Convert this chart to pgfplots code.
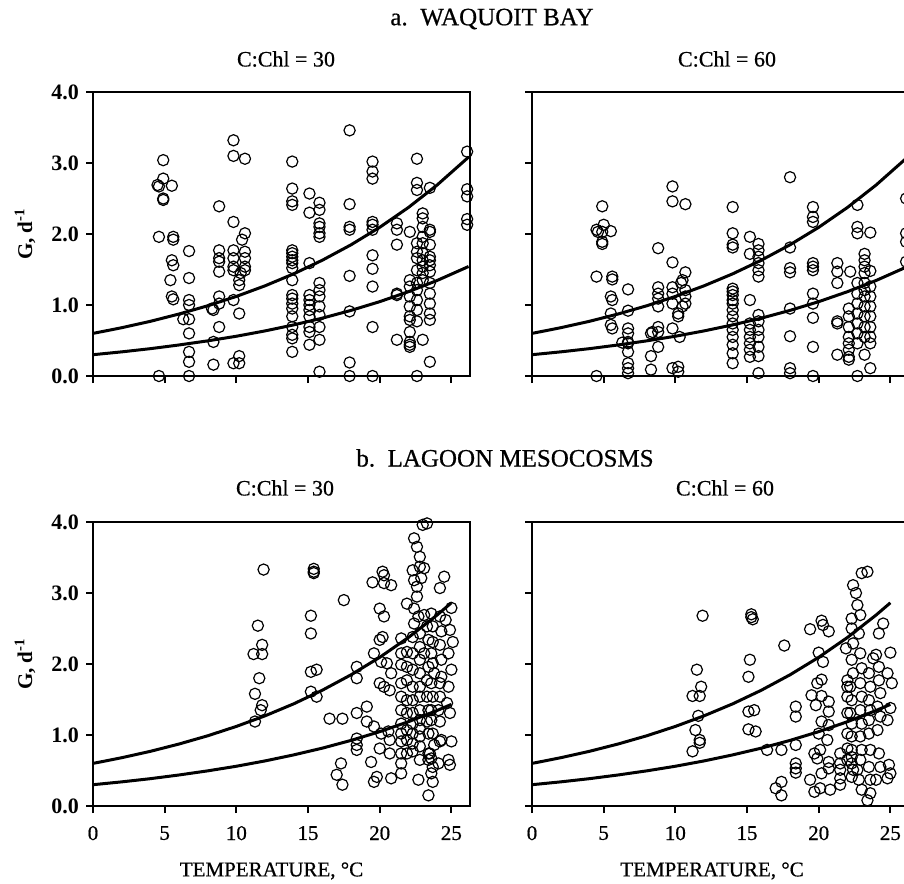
\documentclass[border=0pt]{standalone}
\usepackage{fontspec}
\setmainfont{Liberation Serif}
\newfontfamily\heavy{Liberation Serif}[FakeBold=0.6]
\usepackage{pgfplots}
\pgfplotsset{compat=1.18}

\pgfplotsset{
  panel/.style={
    width=188.5pt, height=142pt, scale only axis,
    xmin=0, xmax=26.3, ymin=0, ymax=4,
    xtick={0,5,...,25}, ytick={0,1,2,3,4},
    tick align=outside, major tick length=3.5pt, tick pos=left,
    axis line style={line width=1.2pt},
    every tick/.style={line width=1pt, black},
    clip=false,
    /pgf/number format/assume math mode=true,
    yticklabel style={font=\fontsize{11}{12}\selectfont\bfseries,
      /pgf/number format/.cd, fixed, fixed zerofill, precision=1},
    xticklabel style={font=\fontsize{10.5}{12}\selectfont\heavy, yshift=-3pt},
  },
  dots/.style={only marks, mark=o, mark size=2.8pt, mark options={line width=0.6pt, black}},
  fitline/.style={no marks, line width=1.5pt, black},
}
\tikzset{
  sect/.style={font=\fontsize{12.5}{14}\selectfont\heavy},
  ttl/.style={font=\fontsize{11}{13}\selectfont\heavy},
  xlab/.style={font=\fontsize{10.5}{12}\selectfont\heavy},
  ylab/.style={font=\fontsize{10.5}{12}\selectfont\bfseries, rotate=90},
}

\begin{document}
\begin{tikzpicture}

% ---------- a. Waquoit Bay, C:Chl = 30
\begin{axis}[panel, at={(46.5pt,-188pt)}, anchor=south west, xticklabels={}]
\addplot[dots] coordinates {
 (4.9,3.04)(4.5,2.69)(4.6,2.67)(4.9,2.78)(5.5,2.68)(4.9,2.48)(4.9,2.50)(4.6,1.96)
 (5.6,1.96)(5.6,1.92)(5.5,1.63)(5.6,1.56)(5.4,1.35)(5.5,1.12)(5.6,1.08)(4.6,0.00)
 (6.7,1.76)(6.7,1.38)(6.7,1.07)(6.7,1.00)(6.3,0.80)(6.7,0.80)(6.7,0.60)(6.7,0.34)(6.7,0.20)(6.7,0.00)
 (8.8,2.39)(8.3,0.95)(8.4,0.93)(8.8,1.77)(8.8,1.66)(8.8,1.61)(8.8,1.47)(8.8,1.12)(8.8,1.02)
 (8.8,0.69)(8.4,0.48)(8.4,0.16)
 (9.8,3.32)(9.8,3.10)(10.6,3.06)(9.8,2.17)(10.6,2.01)(10.4,1.92)(9.8,1.77)(9.8,1.66)(9.8,1.54)
 (9.8,1.49)(10.6,1.75)(10.6,1.66)(10.6,1.54)(10.6,1.49)(10.3,1.45)(10.2,1.35)(10.2,1.28)
 (9.8,1.07)(10.2,0.88)(10.2,0.28)(9.8,0.18)(10.2,0.18)
 (13.9,3.02)(13.9,2.64)(13.9,2.46)(13.9,2.41)(13.9,1.77)(13.9,1.73)(13.9,1.68)(13.9,1.63)
 (13.9,1.59)(13.9,1.52)(13.9,1.35)(13.9,1.14)(13.9,1.09)(13.9,1.02)(13.9,0.95)(13.9,0.84)
 (13.9,0.69)(13.9,0.58)(13.9,0.53)(13.9,0.34)
 (15.1,2.57)(15.1,2.30)(15.1,1.59)(15.1,1.14)(15.1,1.07)(15.1,1.00)(15.1,0.93)(15.1,0.84)
 (15.1,0.69)(15.1,0.62)(15.1,0.44)
 (15.8,2.44)(15.8,2.34)(15.8,2.15)(15.8,2.10)(15.8,2.01)(15.8,1.96)(15.8,1.31)(15.8,1.21)
 (15.8,1.12)(15.8,0.98)(15.8,0.86)(15.8,0.69)(15.8,0.51)(15.8,0.06)
 (17.9,3.46)(17.9,2.42)(17.9,2.10)(17.9,2.06)(17.9,1.41)(17.9,0.91)(17.9,0.19)(17.9,0.00)
 (19.5,3.02)(19.5,2.88)(19.5,2.78)(19.5,2.17)(19.5,2.13)(19.5,2.06)(19.5,1.70)(19.5,1.51)
 (19.5,1.26)(19.5,0.69)(19.5,0.00)
 (21.2,2.15)(21.2,2.06)(21.2,1.85)(21.2,1.16)(21.2,1.14)(21.2,0.51)
 (22.1,2.03)(22.1,1.35)(22.1,1.26)(22.1,1.12)(22.1,0.98)(22.1,0.84)(22.1,0.79)(22.1,0.62)
 (22.1,0.48)(22.1,0.44)(22.1,0.41)
 (22.6,3.06)(22.6,2.72)(22.6,2.62)(22.6,1.87)(22.6,1.75)(22.6,1.66)(22.6,1.49)(22.6,1.31)
 (22.6,1.21)(22.6,1.07)(22.6,0.93)(22.6,0.77)(22.6,0.00)
 (23.0,2.29)(23.0,2.22)(23.0,2.10)(23.0,1.96)(23.0,1.87)(23.0,1.73)(23.0,1.63)(23.0,1.54)
 (23.0,1.45)(23.0,1.35)(23.0,0.51)
 (23.5,2.65)(23.5,2.06)(23.5,2.03)(23.5,1.85)(23.5,1.68)(23.5,1.63)(23.5,1.56)(23.5,1.47)
 (23.5,1.31)(23.5,1.16)(23.5,1.02)(23.5,0.88)(23.5,0.79)(23.5,0.20)
 (26.1,3.16)(26.1,2.63)(26.1,2.53)(26.1,2.21)(26.1,2.13)
};
\addplot[fitline] coordinates {(0,0.600)(2,0.680)(4,0.770)(6,0.873)(8,0.989)(10,1.121)(12,1.270)
 (14,1.439)(16,1.631)(18,1.848)(20,2.094)(22,2.373)(24,2.689)(26,3.047)(26.2,3.085)};
\addplot[fitline] coordinates {(0,0.300)(2,0.340)(4,0.385)(6,0.437)(8,0.495)(10,0.560)(12,0.635)
 (14,0.720)(16,0.815)(18,0.924)(20,1.047)(22,1.187)(24,1.345)(26,1.524)(26.2,1.543)};
\end{axis}

% ---------- a. Waquoit Bay, C:Chl = 60
\begin{axis}[panel, at={(266pt,-188pt)}, anchor=south west, xticklabels={}, yticklabels={}]
\addplot[dots] coordinates {
 (4.9,2.39)(4.5,2.06)(4.6,2.03)(4.9,2.03)(5.0,2.13)(5.5,2.04)(4.9,1.89)(4.9,1.86)(4.5,1.40)
 (5.6,1.40)(5.6,1.36)(5.5,1.12)(5.6,1.07)(5.5,0.88)(5.5,0.72)(5.6,0.67)(4.5,0.00)
 (6.7,1.22)(6.7,0.92)(6.7,0.67)(6.7,0.60)(6.7,0.48)(6.7,0.46)(6.7,0.34)(6.7,0.18)(6.7,0.11)
 (6.7,0.04)(6.3,0.47)
 (8.8,1.80)(8.8,1.25)(8.8,1.16)(8.8,1.09)(8.8,0.98)(8.8,0.69)(8.8,0.62)(8.8,0.41)
 (8.3,0.60)(8.4,0.62)(8.3,0.28)(8.3,0.09)
 (9.8,2.67)(9.8,2.46)(10.7,2.42)(9.8,1.60)(10.7,1.46)(10.5,1.35)(10.4,1.31)(9.8,1.25)
 (9.8,1.16)(9.8,1.02)(10.7,1.21)(10.7,1.12)(10.7,1.02)(10.5,0.98)(10.2,0.88)(10.2,0.84)
 (9.8,0.67)(10.3,0.55)(9.8,0.11)(10.2,0.13)(10.2,0.06)
 (14.0,2.38)(14.0,2.01)(14.0,1.85)(14.0,1.81)(14.0,1.23)(14.0,1.19)(14.0,1.14)(14.0,1.07)
 (14.0,1.02)(14.0,0.93)(14.0,0.84)(14.0,0.74)(14.0,0.65)(14.0,0.55)(14.0,0.44)(14.0,0.32)(14.0,0.18)
 (15.2,1.96)(15.2,1.72)(15.2,1.07)(15.2,0.74)(15.2,0.65)(15.2,0.55)(15.2,0.46)(15.2,0.37)(15.2,0.27)
 (15.8,1.86)(15.8,1.77)(15.8,1.68)(15.8,1.59)(15.8,1.49)(15.8,1.40)(15.8,0.86)(15.8,0.77)
 (15.8,0.65)(15.8,0.55)(15.8,0.41)(15.8,0.28)(15.8,0.04)
 (18.0,2.80)(18.0,1.81)(18.0,1.52)(18.0,1.46)(18.0,0.95)(18.0,0.56)(18.0,0.11)(18.0,0.04)
 (19.6,2.38)(19.6,2.24)(19.6,2.17)(19.6,1.59)(19.6,1.54)(19.6,1.49)(19.6,1.16)(19.6,1.02)
 (19.6,0.82)(19.6,0.41)(19.6,0.00)
 (21.3,1.59)(21.3,1.47)(21.3,1.31)(21.3,0.77)(21.3,0.74)(21.3,0.30)(22.2,1.47)
 (22.1,0.95)(22.1,0.84)(22.1,0.69)(22.1,0.55)(22.1,0.46)(22.1,0.37)(22.1,0.27)(22.1,0.23)
 (22.7,2.41)(22.7,2.10)(22.7,2.01)(22.7,1.31)(22.7,1.16)(22.7,1.02)(22.7,0.88)(22.7,0.74)
 (22.7,0.60)(22.7,0.46)(22.7,0.00)
 (23.2,1.72)(23.2,1.63)(23.2,1.54)(23.2,1.45)(23.2,1.31)(23.2,1.21)(23.2,1.12)(23.2,0.98)
 (23.2,0.84)(23.2,0.69)(23.2,0.55)(23.2,0.30)
 (23.6,2.02)(23.6,1.48)(23.6,1.26)(23.6,1.12)(23.6,0.98)(23.6,0.84)(23.6,0.69)(23.6,0.55)
 (23.6,0.46)(23.6,0.11)
 (26.1,2.50)(26.1,2.01)(26.1,1.89)(26.1,1.61)
};
\addplot[fitline] coordinates {(0,0.600)(2,0.680)(4,0.770)(6,0.873)(8,0.989)(10,1.121)(12,1.270)
 (14,1.439)(16,1.631)(18,1.848)(20,2.094)(22,2.373)(24,2.689)(26,3.047)(26.2,3.085)};
\addplot[fitline] coordinates {(0,0.300)(2,0.340)(4,0.385)(6,0.437)(8,0.495)(10,0.560)(12,0.635)
 (14,0.720)(16,0.815)(18,0.924)(20,1.047)(22,1.187)(24,1.345)(26,1.524)(26.2,1.543)};
\end{axis}

% ---------- b. Lagoon mesocosms, C:Chl = 30
\begin{axis}[panel, at={(46.5pt,-403pt)}, anchor=south west]
\addplot[dots] coordinates {
 (11.9,3.33)(11.5,2.54)(11.8,2.27)(11.2,2.14)(11.8,2.14)(11.6,1.80)(11.3,1.58)(11.8,1.42)
 (11.7,1.35)(11.3,1.19)
 (15.4,3.34)(15.4,3.30)(15.4,3.28)(15.2,2.68)(15.2,2.43)(15.2,1.89)(15.6,1.92)(15.2,1.61)(15.6,1.54)
 (17.5,2.90)(16.5,1.23)(17.4,1.23)(18.4,1.96)(18.4,1.80)(18.4,1.31)(18.4,0.95)(18.4,0.86)
 (18.4,0.79)(17.3,0.60)(17.0,0.44)(17.4,0.30)(19.4,0.62)(19.6,0.34)(19.8,0.41)(19.1,1.40)
 (19.1,1.19)(19.5,3.15)(20.0,2.78)(20.3,2.67)(20.2,3.30)(20.3,3.25)(20.3,3.14)(20.8,3.11)
 (20.0,2.34)(20.2,2.38)(19.6,2.15)(20.1,2.03)(20.5,2.01)(20.8,1.87)(20.0,1.73)(20.3,1.68)
 (20.7,1.63)(19.6,1.12)(20.1,1.02)(20.6,1.05)(20.0,0.81)(20.7,0.93)(20.7,0.74)(20.8,0.39)
 (21.5,2.36)(21.5,2.15)(21.5,1.99)(21.5,1.73)(21.5,1.54)(21.5,1.35)(21.5,1.16)(21.5,1.02)
 (21.5,0.91)(21.5,0.74)(21.5,0.60)(21.5,0.46)
 (21.9,2.85)(21.9,2.17)(21.9,1.96)(21.9,1.77)(21.9,1.49)(21.9,1.31)(21.9,1.07)(21.9,0.93)(21.9,0.74)
 (22.4,3.77)(22.6,3.65)(22.3,3.32)(22.4,3.18)(22.6,3.09)(22.6,2.95)(22.4,2.78)(22.4,2.57)
 (22.3,2.38)(22.3,2.15)(22.3,1.92)(22.3,1.68)(22.3,1.49)(22.3,1.31)(22.3,1.16)(22.3,1.02)
 (22.3,0.88)(22.3,0.77)(22.7,0.37)
 (22.8,3.51)(22.8,3.37)(22.9,3.21)(22.7,2.67)(22.8,2.43)(22.8,2.24)(22.8,2.06)(22.8,1.87)
 (22.8,1.68)(22.8,1.54)(22.8,1.35)(22.8,1.21)(22.8,1.09)(22.8,0.98)(22.8,0.84)(22.8,0.65)
 (23.0,3.96)(23.3,3.98)(23.1,3.35)(23.1,2.69)(23.3,2.53)(23.4,2.34)(23.1,2.15)(23.4,1.96)
 (23.3,1.77)(23.3,1.54)(23.4,1.35)(23.3,1.19)(23.4,1.02)(23.4,0.74)(23.4,0.65)(23.4,0.15)
 (23.6,2.71)(23.7,2.53)(23.7,2.31)(23.6,2.15)(23.7,2.01)(23.8,1.87)(23.6,1.73)(23.7,1.54)
 (23.6,1.35)(23.6,1.21)(23.7,1.02)(23.8,0.86)(23.5,0.74)(23.6,0.67)(23.7,0.55)(23.7,0.34)(23.6,0.46)
 (24.5,3.23)(24.2,3.07)(24.2,2.67)(24.3,2.46)(24.2,2.27)(24.3,2.06)(24.3,1.82)(24.2,1.73)
 (24.2,1.54)(24.1,1.35)(24.2,1.19)(24.2,0.91)(24.1,0.60)(24.3,0.93)
 (25.0,2.79)(24.6,2.62)(24.9,2.48)(25.1,2.31)(24.8,2.15)(25.0,1.92)(24.8,1.68)(24.7,1.45)
 (24.9,1.31)(25.0,0.91)(24.8,0.65)(24.9,0.58)
};
\addplot[fitline] coordinates {(0,0.600)(2,0.680)(4,0.770)(6,0.873)(8,0.989)(10,1.121)(12,1.270)
 (14,1.439)(16,1.631)(18,1.848)(20,2.094)(22,2.373)(24,2.689)(25,2.862)};
\addplot[fitline] coordinates {(0,0.300)(2,0.340)(4,0.385)(6,0.437)(8,0.495)(10,0.560)(12,0.635)
 (14,0.720)(16,0.815)(18,0.924)(20,1.047)(22,1.187)(24,1.345)(25,1.431)};
\end{axis}

% ---------- b. Lagoon mesocosms, C:Chl = 60
\begin{axis}[panel, at={(266pt,-403pt)}, anchor=south west, yticklabels={}]
\addplot[dots] coordinates {
 (11.9,2.68)(11.5,1.92)(11.8,1.68)(11.2,1.55)(11.7,1.55)(11.6,1.27)(11.4,1.07)(11.7,0.93)
 (11.7,0.89)(11.2,0.77)
 (15.3,2.70)(15.3,2.66)(15.4,2.63)(15.2,2.06)(15.1,1.82)(15.1,1.33)(15.5,1.35)(15.1,1.08)(15.6,1.05)
 (17.6,2.26)(16.4,0.79)(17.4,0.79)(18.4,1.40)(18.4,1.26)(18.4,0.86)(18.4,0.60)(18.4,0.53)
 (18.4,0.47)(17.0,0.25)(17.4,0.34)(17.4,0.15)(19.4,0.37)(19.7,0.20)(20.1,0.25)(20.8,0.23)
 (19.4,2.49)(20.2,2.61)(20.3,2.55)(20.7,2.46)(20.0,2.16)(20.3,2.03)(19.9,1.73)(20.2,1.78)
 (19.5,1.56)(19.8,1.42)(20.2,1.55)(20.7,1.47)(20.7,1.33)(20.2,1.19)(20.7,1.14)(20.0,1.02)
 (20.6,0.93)(19.7,0.74)(20.1,0.79)(20.7,0.62)(19.9,0.67)(20.2,0.46)(20.7,0.53)
 (21.5,0.74)(21.5,0.60)(21.5,0.51)(21.5,0.39)(21.5,0.30)(21.9,2.22)
 (22.0,1.77)(22.0,1.68)(22.0,1.54)(22.0,1.31)(22.0,1.02)(22.0,0.81)(22.0,0.65)
 (22.4,3.11)(22.6,3.00)(22.7,2.83)(22.3,2.64)(22.3,2.50)(22.4,2.29)(22.3,2.06)(22.4,1.87)
 (22.2,1.68)(22.3,1.49)(22.2,1.31)(22.3,1.16)(22.3,0.98)(22.3,0.79)(22.3,0.69)(22.3,0.60)
 (22.4,0.51)(22.3,0.41)
 (23.0,3.28)(23.4,3.30)(22.9,2.69)(22.8,2.43)(22.9,2.15)(23.0,1.94)(22.9,1.73)(23.0,1.54)
 (22.9,1.35)(23.0,1.16)(22.9,0.98)(23.0,0.79)(22.9,0.65)(22.7,0.51)(22.8,0.37)(23.0,0.23)
 (23.8,2.08)(23.5,1.87)(23.6,1.68)(23.5,1.49)(23.6,1.35)(23.5,1.21)(23.5,1.02)(23.6,0.79)
 (23.5,0.55)(23.6,0.37)(23.6,0.18)(23.4,0.08)
 (24.5,2.57)(24.2,2.43)(24.0,2.13)(24.2,1.96)(24.2,1.77)(24.3,1.59)(24.1,1.40)(24.3,1.26)
 (24.1,1.07)(24.2,0.74)(24.3,0.55)(24.0,0.37)
 (25.0,2.16)(25.1,1.73)(24.8,1.87)(25.0,1.38)(24.8,1.21)(24.9,0.58)(25.0,0.46)(24.8,0.39)
};
\addplot[fitline] coordinates {(0,0.600)(2,0.680)(4,0.770)(6,0.873)(8,0.989)(10,1.121)(12,1.270)
 (14,1.439)(16,1.631)(18,1.848)(20,2.094)(22,2.373)(24,2.689)(25,2.862)};
\addplot[fitline] coordinates {(0,0.300)(2,0.340)(4,0.385)(6,0.437)(8,0.495)(10,0.560)(12,0.635)
 (14,0.720)(16,0.815)(18,0.924)(20,1.047)(22,1.187)(24,1.345)(25,1.431)};
\end{axis}

% ---------- titles and labels
\node[sect] at (246pt,-9.5pt) {a.\ \ WAQUOIT BAY};
\node[ttl] at (143pt,-29.5pt) {C:Chl = 30};
\node[ttl] at (363.5pt,-29.5pt) {C:Chl = 60};
\node[sect] at (252.5pt,-229pt) {b.\ \ LAGOON MESOCOSMS};
\node[ttl] at (142.5pt,-244pt) {C:Chl = 30};
\node[ttl] at (362.5pt,-244pt) {C:Chl = 60};
\node[xlab] at (135.75pt,-435.5pt) {TEMPERATURE, °C};
\node[xlab] at (356pt,-435.5pt) {TEMPERATURE, °C};
\node[ylab] at (12.5pt,-117pt) {G, d\textsuperscript{-1}};
\node[ylab] at (12.5pt,-332pt) {G, d\textsuperscript{-1}};

\pgfresetboundingbox
\path[use as bounding box] (0pt,0pt) rectangle (452pt,-441.5pt);
\end{tikzpicture}
\end{document}
